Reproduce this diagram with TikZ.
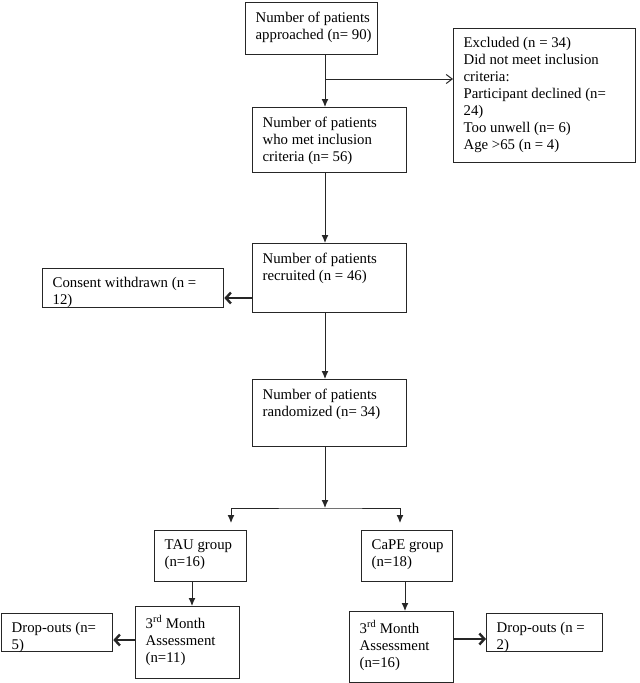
\documentclass[tikz,border=0pt]{standalone}
\usepackage{fontspec}
\setmainfont{Liberation Serif}
\usetikzlibrary{arrows.meta}
\newcommand{\bxtext}[3]{\parbox[t][#2][t]{#1}{\raggedright\leftskip=10pt\relax #3}}
\begin{document}
\begin{tikzpicture}[x=1pt,y=-1pt,
  bx/.style={draw=black!85, line width=1.3pt, inner xsep=0pt, inner ysep=9pt, anchor=north west,
    font=\fontsize{14.8}{17}\selectfont},
  conn/.style={draw=black!85, line width=1pt},
  arr/.style={conn, -{Latex[length=8pt,width=7pt]}},
  openarr/.style={conn, -{Straight Barb[length=6pt,width=9pt]}},
  thickarr/.style={draw=black!85, line width=2.4pt, -{Straight Barb[length=5pt,width=11pt]}}
]
\useasboundingbox (0,0) rectangle (640,683);

\node[bx] (b1) at (245,2) {\bxtext{132pt}{34pt}{Number of patients\\approached (n= 90)}};
\node[bx] (ex) at (453,28) {\bxtext{182pt}{116pt}{Excluded (n = 34)\\Did not meet inclusion\\criteria:\\Participant declined (n=\\24)\\Too unwell (n= 6)\\Age >65 (n = 4)}};
\node[bx] (b2) at (252,107) {\bxtext{154pt}{47pt}{Number of patients\\who met inclusion\\criteria (n= 56)}};
\node[bx] (b3) at (252,243) {\bxtext{154pt}{51pt}{Number of patients\\recruited (n = 46)}};
\node[bx] (cw) at (42,268) {\bxtext{181pt}{21pt}{Consent withdrawn (n =\\12)}};
\node[bx] (b4) at (252,379) {\bxtext{154pt}{49pt}{Number of patients\\randomized (n= 34)}};
\node[bx] (tau) at (154,530) {\bxtext{92pt}{33pt}{TAU group\\(n=16)}};
\node[bx] (cape) at (361,530) {\bxtext{91pt}{33pt}{CaPE group\\(n=18)}};
\node[bx] (m1) at (135,606) {\bxtext{104pt}{54pt}{3\textsuperscript{rd} Month\\Assessment\\(n=11)}};
\node[bx] (m2) at (349,611) {\bxtext{104pt}{53pt}{3\textsuperscript{rd} Month\\Assessment\\(n=16)}};
\node[bx] (d1) at (1,613) {\bxtext{111pt}{20pt}{Drop-outs (n=\\5)}};
\node[bx] (d2) at (486,613) {\bxtext{116pt}{20pt}{Drop-outs (n =\\2)}};

% connectors
\coordinate (sp) at (325,0);
\coordinate (br) at (325,79);
\coordinate (cy) at (0,298);
\coordinate (sy) at (325,508);
\coordinate (sl) at (231,0);
\coordinate (sr) at (400,0);
\coordinate (tl) at (192,0);
\coordinate (tr) at (405,0);
\coordinate (dl) at (0,640);
\coordinate (dr) at (0,639);

\draw[arr] (b1.south -| sp) -- (b2.north -| sp);
\draw[openarr] (br) -- (br -| ex.west);
\draw[arr] (b2.south -| sp) -- (b3.north -| sp);
\draw[thickarr] (b3.west |- cy) -- (cw.east |- cy);
\draw[arr] (b3.south -| sp) -- (b4.north -| sp);
\draw[arr] (b4.south -| sp) -- (sy);
\draw[conn, {Latex[length=8pt,width=7pt]}-{Latex[length=8pt,width=7pt]}]
  ([yshift=7pt]tau.north -| sl) |- (sy) -| ([yshift=7pt]cape.north -| sr);
\draw[arr] (tau.south -| tl) -- (m1.north -| tl);
\draw[arr] (cape.south -| tr) -- (m2.north -| tr);
\draw[thickarr] (m1.west |- dl) -- (d1.east |- dl);
\draw[thickarr] (m2.east |- dr) -- (d2.west |- dr);
\end{tikzpicture}
\end{document}
